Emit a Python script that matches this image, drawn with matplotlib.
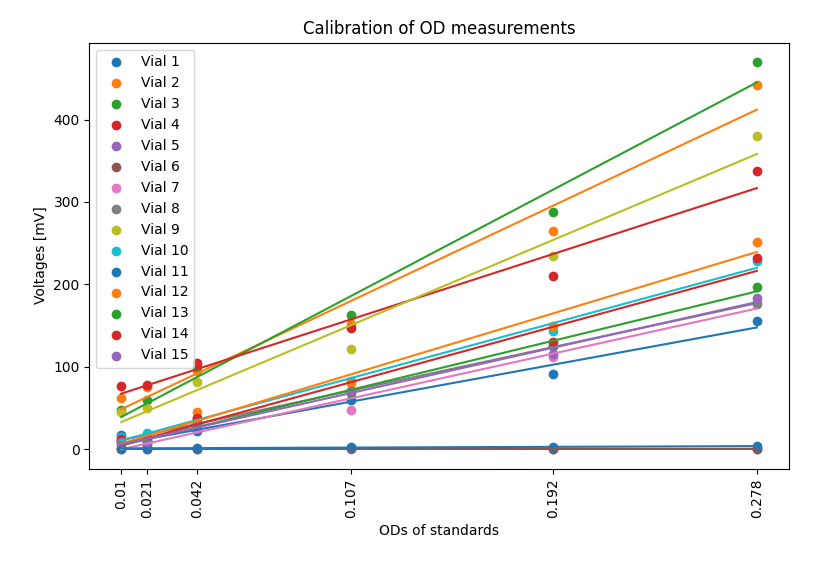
import matplotlib
matplotlib.use('Agg')
import matplotlib.pyplot as plt
import numpy as np

ods = [0.01, 0.021, 0.042, 0.107, 0.192, 0.278]
vials = [
    [17, 5, 22, 60, 91, 155],
    [62, 75, 95, 152, 265, 442],
    [47, 60, 100, 163, 288, 470],
    [76, 78, 104, 147, 210, 338],
    [0, 0, 0, 0, 0, 0],
    [0, 0, 0, 1, 0, 0],
    [5, 8, 25, 47, 112, 178],
    [10, 12, 38, 70, 125, 176],
    [45, 50, 81, 122, 235, 380],
    [15, 20, 35, 83, 143, 228],
    [1, 1, 1, 2, 2, 4],
    [10, 15, 45, 80, 150, 252],
    [8, 10, 30, 68, 125, 197],
    [12, 12, 38, 70, 130, 232],
    [8, 8, 30, 70, 115, 183],
]

fig, ax = plt.subplots(figsize=(8.13, 5.68), dpi=100)
x = np.array(ods)
for i, v in enumerate(vials):
    c = 'C%d' % (i % 10)
    ax.scatter(x, v, color=c, label='Vial %d' % (i + 1))
    k, b = np.polyfit(x, v, 1)
    ax.plot(x, k * x + b, color=c)

ax.set_xticks(ods)
ax.set_xticklabels([str(o) for o in ods], rotation=90)
ax.set_xlabel('ODs of standards')
ax.set_ylabel('Voltages [mV]')
ax.set_title('Calibration of OD measurements')
ax.legend(loc='upper left')
plt.subplots_adjust(left=0.11, right=0.97, top=0.925, bottom=0.175)
plt.savefig('out.png')
